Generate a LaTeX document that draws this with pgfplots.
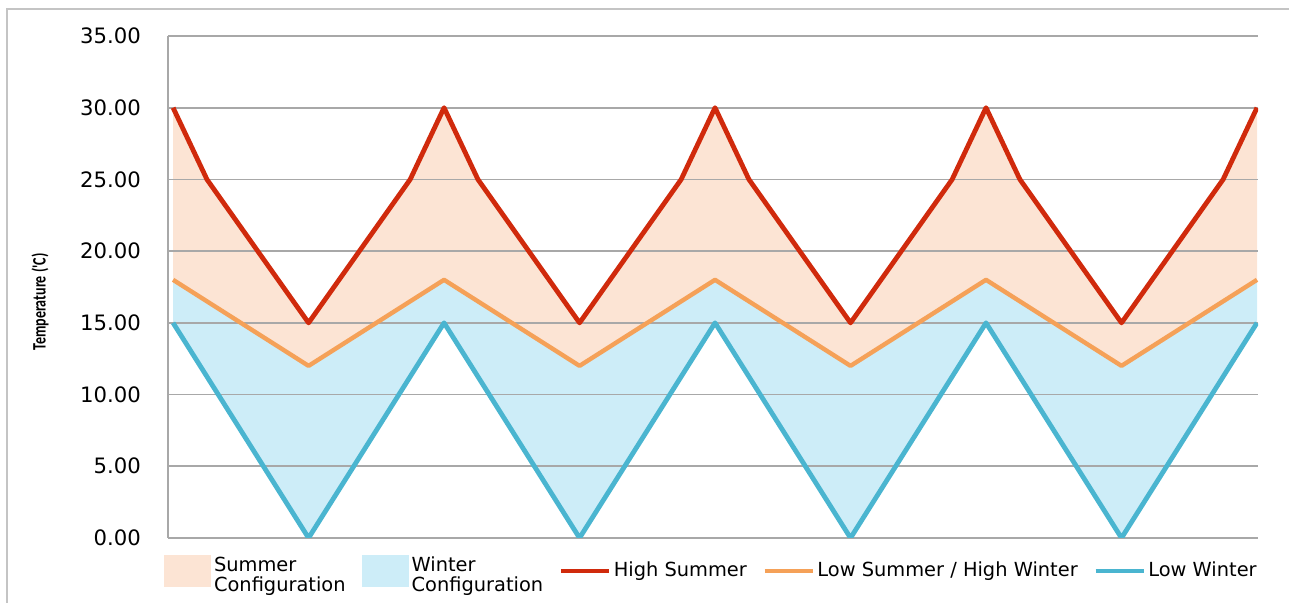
\documentclass[border=0pt]{standalone}
\usepackage{fontspec}
\setmainfont{DejaVu Sans}
\newfontfamily\labelfont{Carlito}
\usepackage{graphicx}
\usepackage{pgfplots}
\pgfplotsset{compat=1.18}
\usepgfplotslibrary{fillbetween}

\definecolor{hisum}{HTML}{D02A0C}
\definecolor{lowsum}{HTML}{F5A158}
\definecolor{lowwin}{HTML}{4AB5D0}
\definecolor{sumfill}{HTML}{FCE4D4}
\definecolor{winfill}{HTML}{CDEDF8}
\definecolor{gridgray}{HTML}{A8A8A8}
\definecolor{framegray}{HTML}{C4C4C4}

\pgfplotsset{
  layers/mine/.define layer set={
    axis background,pre main,axis grid,axis ticks,axis lines,
    axis tick labels,main,axis descriptions,axis foreground
  }{},
  patchlegend/.style={legend image code/.code={\fill[##1] (0pt,-8pt) rectangle (23.5pt,8pt);}},
  linelegend/.style={legend image code/.code={\draw[##1] (0pt,0pt) -- (24pt,0pt);}},
}

\begin{document}
\begin{tikzpicture}
\draw[framegray, line width=0.9pt] (3.5pt,0pt) -- (3.5pt,297pt) -- (644.5pt,297pt);
\begin{axis}[
  set layers=mine,
  at={(84pt,32.5pt)}, anchor=south west,
  scale only axis, width=545pt, height=251pt,
  xmin=-0.15, xmax=32.03, ymin=0, ymax=35,
  xtick=\empty,
  ytick={0,5,...,35},
  ymajorgrids,
  grid style={line width=0.8pt, gridgray},
  axis x line*=bottom, axis y line*=left,
  axis line style={line width=0.8pt, gridgray},
  major tick length=0pt,
  yticklabel style={font=\fontsize{10.6}{12}\selectfont, xshift=-10pt,
    /pgf/number format/.cd, fixed, fixed zerofill, precision=2, assume math mode=true},
  ylabel={\scalebox{0.74}[1]{Temperature ('C)}},
  ylabel style={font=\labelfont\bfseries\fontsize{9.5}{10}\selectfont,
    at={(axis description cs:0,0.47)}, anchor=center, yshift=64pt},
  legend columns=5,
  legend cell align=left,
  legend style={at={(axis description cs:-0.004,-0.0657)}, anchor=west,
    draw=none, fill=none, inner sep=0pt,
    font=\fontsize{9.7}{9.7}\selectfont,
    nodes={inner sep=0pt},
    /tikz/every even column/.append style={column sep=8pt},
    /tikz/every odd column/.append style={column sep=1.5pt}},
]
\addplot[name path=hi, hisum, line width=2.4pt, line join=round, forget plot]
  coordinates {(0,30)(1,25)(4,15)(7,25)(8,30)(9,25)(12,15)(15,25)(16,30)
               (17,25)(20,15)(23,25)(24,30)(25,25)(28,15)(31,25)(32,30)};
\addplot[name path=mid, lowsum, line width=2.2pt, line join=round, forget plot]
  coordinates {(0,18)(4,12)(8,18)(12,12)(16,18)(20,12)(24,18)(28,12)(32,18)};
\addplot[name path=lo, lowwin, line width=2.4pt, line join=round, forget plot]
  coordinates {(0,15)(4,0)(8,15)(12,0)(16,15)(20,0)(24,15)(28,0)(32,15)};

\addplot[sumfill, forget plot] fill between[of=hi and mid];
\addplot[winfill, forget plot] fill between[of=mid and lo];

\addlegendimage{patchlegend, fill=sumfill, draw=none}
\addlegendimage{patchlegend, fill=winfill, draw=none}
\addlegendimage{linelegend, hisum, line width=1.8pt}
\addlegendimage{linelegend, lowsum, line width=1.8pt}
\addlegendimage{linelegend, lowwin, line width=1.8pt}
\legend{{\begin{tabular}{@{}l@{}}Summer\\Configuration\end{tabular}},
        {\begin{tabular}{@{}l@{}}Winter\\Configuration\end{tabular}},
        High Summer, Low Summer / High Winter, Low Winter}
\end{axis}
\pgfresetboundingbox
\path (0,0) rectangle (644.5pt,301.5pt);
\end{tikzpicture}
\end{document}
